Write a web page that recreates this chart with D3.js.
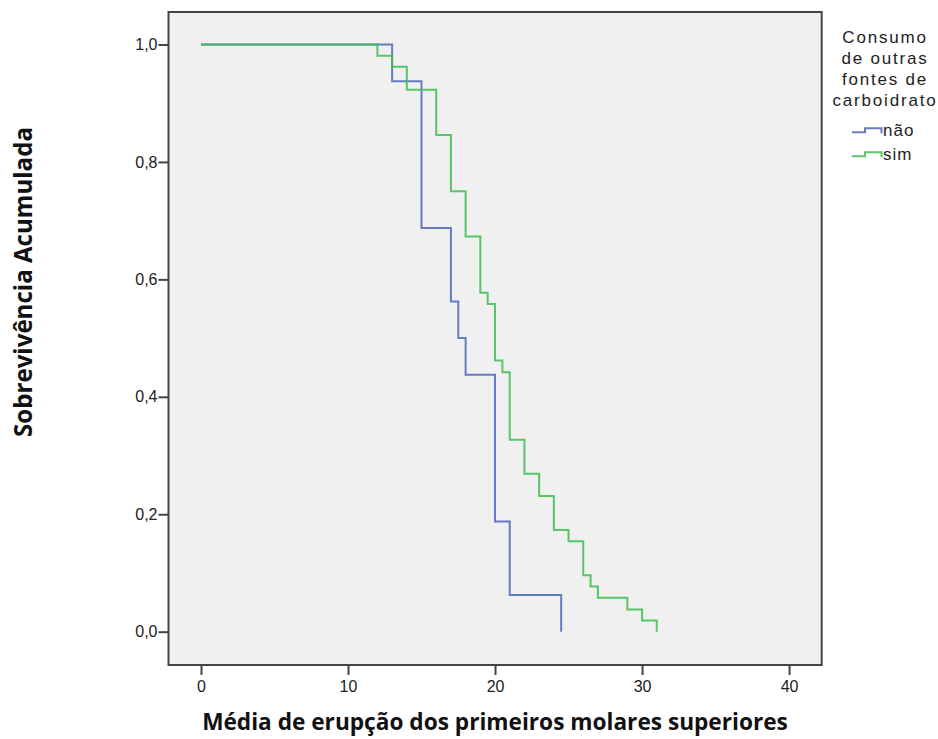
<!DOCTYPE html>
<html>
<head>
<meta charset="utf-8">
<script src="https://cdn.jsdelivr.net/npm/d3@7"></script>
<style>
  html, body { margin: 0; padding: 0; background: #ffffff; }
  svg { display: block; }
</style>
</head>
<body>
<svg id="chart" width="938" height="739"></svg>
<script>
// ---- data ----
const groups = ["não", "sim"];
const naoTimes = [0, 13, 15, 17, 17.5, 18, 20, 21, 24.5];
const naoSurv  = [1, 0.9375, 0.6875, 0.5625, 0.5, 0.4375, 0.1875, 0.0625, 0];
const simTimes = [0, 12, 13, 14, 16, 17, 18, 19, 19.5, 20, 20.5, 21, 22, 23, 24, 25, 26, 26.5, 27, 29, 30, 31];
const simSurv  = [1, 0.981, 0.962, 0.923, 0.846, 0.75, 0.673, 0.577, 0.558, 0.462, 0.442, 0.327, 0.269, 0.231, 0.173, 0.154, 0.096, 0.077, 0.058, 0.038, 0.019, 0];
const xTicks = [0, 10, 20, 30, 40];
const yTicks = [0, 0.2, 0.4, 0.6, 0.8, 1.0];
const yTickLabels = ["0,0", "0,2", "0,4", "0,6", "0,8", "1,0"];
const xTitle = "Média de erupção dos primeiros molares superiores";
const yTitle = "Sobrevivência Acumulada";
const legendTitle = ["Consumo", "de outras", "fontes de", "carboidrato"];
const colors = ["#4f66b8", "#3ebd4e"];

const svg = d3.select("#chart");
const frame = {left: 168.5, right: 821.7, top: 12, bottom: 665};

const x = d3.scaleLinear().domain([-2.21, 42.22]).range([frame.left, frame.right]);
const y = d3.scaleLinear().domain([-0.0567, 1.0553]).range([frame.bottom, frame.top]);

// plot background
svg.append("rect")
  .attr("x", frame.left).attr("y", frame.top)
  .attr("width", frame.right - frame.left).attr("height", frame.bottom - frame.top)
  .attr("fill", "#f0f0f0");

// series
const series = [
  {name: groups[0], times: naoTimes, surv: naoSurv, color: colors[0]},
  {name: groups[1], times: simTimes, surv: simSurv, color: colors[1]}
];
const line = d3.line()
  .x(d => x(d[0])).y(d => y(d[1]))
  .curve(d3.curveStepAfter);

series.forEach(s => {
  const pts = s.times.map((t, i) => [t, s.surv[i]]);
  svg.append("path")
    .datum(pts)
    .attr("d", line)
    .attr("fill", "none")
    .attr("stroke", s.color)
    .attr("stroke-width", 2)
    .attr("stroke-opacity", 0.85);
});

// frame
svg.append("rect")
  .attr("x", frame.left).attr("y", frame.top)
  .attr("width", frame.right - frame.left).attr("height", frame.bottom - frame.top)
  .attr("fill", "none").attr("stroke", "#444").attr("stroke-width", 2);

// axes
const xAxis = d3.axisBottom(x).tickValues(xTicks).tickSize(10).tickSizeOuter(0).tickPadding(6);
const gx = svg.append("g").attr("transform", `translate(0,${frame.bottom})`).call(xAxis);
gx.select(".domain").remove();

const yAxis = d3.axisLeft(y).tickValues(yTicks).tickSize(10).tickSizeOuter(0).tickPadding(1)
  .tickFormat((d, i) => yTickLabels[i]);
const gy = svg.append("g").attr("transform", `translate(${frame.left},0)`).call(yAxis);
gy.select(".domain").remove();

[gx, gy].forEach(g => {
  g.selectAll(".tick line").attr("stroke", "#444").attr("stroke-width", 2);
  g.selectAll(".tick text")
    .attr("fill", "#222")
    .style("font-family", "'Liberation Sans', Arial, sans-serif")
    .style("font-size", "16px");
});

// titles, fitted to the reference widths
function fit(sel, target) {
  const w = sel.node().getComputedTextLength();
  const fs = parseFloat(sel.style("font-size"));
  sel.style("font-size", (fs * target / w) + "px");
}
const xt = svg.append("text")
  .attr("x", 495).attr("y", 730)
  .attr("text-anchor", "middle")
  .style("font-family", "'Open Sans', sans-serif")
  .style("font-weight", "bold")
  .style("font-size", "20px")
  .attr("fill", "#111")
  .text(xTitle);
fit(xt, 586);

const yt = svg.append("text")
  .attr("transform", "translate(32,282) rotate(-90)")
  .attr("text-anchor", "middle")
  .style("font-family", "'Open Sans', sans-serif")
  .style("font-weight", "bold")
  .style("font-size", "20px")
  .attr("fill", "#111")
  .text(yTitle);
fit(yt, 310);

// legend
const lg = svg.append("g");
legendTitle.forEach((t, i) => {
  lg.append("text")
    .attr("x", 885).attr("y", 42.5 + i * 21.2)
    .attr("text-anchor", "middle")
    .style("font-family", "'Liberation Sans', Arial, sans-serif")
    .style("font-size", "17px")
    .style("letter-spacing", "1.8px")
    .attr("fill", "#222")
    .text(t);
});
series.forEach((s, i) => {
  const by = 132.3 + i * 24;
  lg.append("path")
    .attr("d", `M852,${by} H865 V${by - 4} H881.5 V${by + 1}`)
    .attr("fill", "none").attr("stroke", s.color).attr("stroke-width", 2).attr("stroke-opacity", 0.85);
  lg.append("text")
    .attr("x", 883).attr("y", by + 4)
    .style("font-family", "'Liberation Sans', Arial, sans-serif")
    .style("font-size", "17px")
    .style("letter-spacing", "1px")
    .attr("fill", "#222")
    .text(s.name);
});
</script>
</body>
</html>
